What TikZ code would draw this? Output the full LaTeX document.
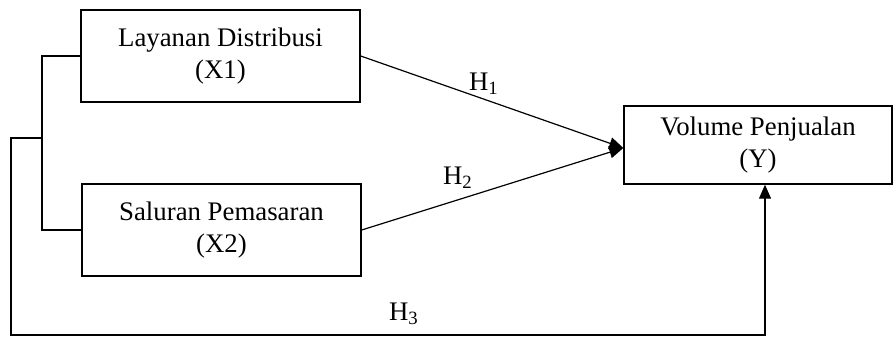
\documentclass[tikz,border=0pt]{standalone}
\usepackage{fontspec}
\setmainfont{Liberation Serif}
\usepackage{tikz}
\usetikzlibrary{calc,arrows.meta}
\tikzset{var box/.style={draw,line width=0.7pt,minimum width=139.5pt,minimum height=46pt,inner sep=0pt,align=center,font=\fontsize{13.4}{16}\selectfont},hyp label/.style={font=\fontsize{13.4}{16}\selectfont},path line/.style={line width=0.6pt,-{Triangle[length=7pt,width=6pt]}}}

\begin{document}
\begin{tikzpicture}[x=0.5pt,y=0.5pt]
				\useasboundingbox (0,0) rectangle (893,337);
				\node[var box] (X1) at (220.5,281) {Layanan Distribusi\\(X1)};
				\node[var box] (X2) at (221.5,107) {Saluran Pemasaran\\(X2)};
				\node[var box,minimum width=134pt,minimum height=39pt] (Y) at (758,192) {Volume Penjualan\\(Y)};
				\coordinate (B) at (42,199);
				\coordinate (P) at (11,199);
				\coordinate (Q) at (11,2);
				\coordinate (R) at (765,2);
				\coordinate (Yin) at ($(Y.west)+(0,-3)$);
				\draw[line width=0.6pt] (X1.west) -| (B) |- (X2.west);
				\draw[path line] (X1.east) -- (Yin);
				\draw[path line] (X2.east) -- (Yin);
				\draw[path line] (B) -- (P) -- (Q) -- (R) -- (R |- Y.south);
				\node[hyp label] (H1) at (484,253) {H\textsubscript{1}};
				\node[hyp label] (H2) at (458,159) {H\textsubscript{2}};
				\node[hyp label] (H3) at (404,23) {H\textsubscript{3}};
			\end{tikzpicture}
\end{document}
